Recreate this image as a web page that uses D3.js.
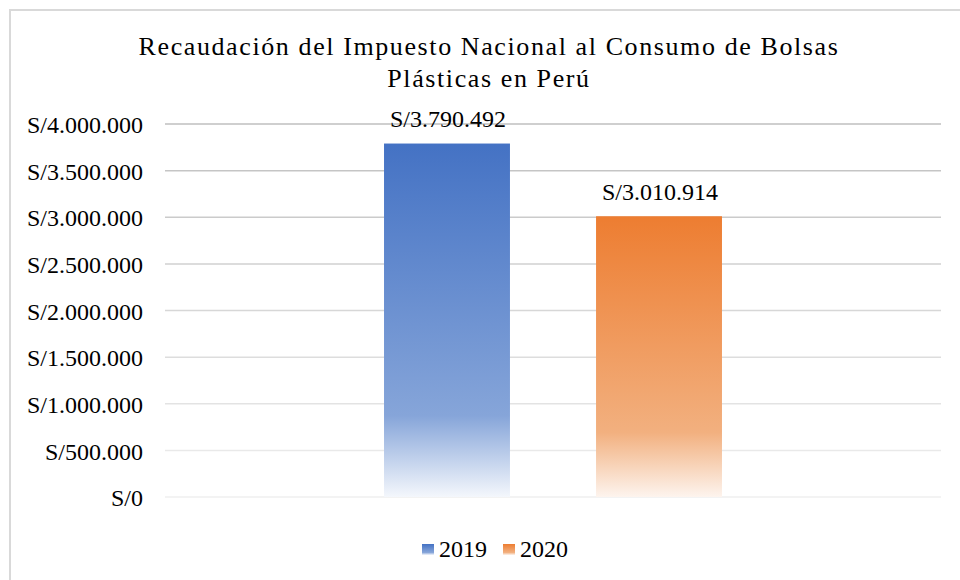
<!DOCTYPE html>
<html>
<head>
<meta charset="utf-8">
<script src="https://cdn.jsdelivr.net/npm/d3@7"></script>
<style>
  body { margin: 0; background: #fff; }
  svg text { font-family: "Liberation Serif", "Times New Roman", serif; fill: #000; }
</style>
</head>
<body>
<div id="chart"></div>
<script>
// datos
var series = ["2019", "2020"];
var values = [3790492, 3010914];
var ticks = [0, 500000, 1000000, 1500000, 2000000, 2500000, 3000000, 3500000, 4000000];
var titleLines = ["Recaudación del Impuesto Nacional al Consumo de Bolsas", "Plásticas en Perú"];
var colors = [
  { top: "#4472c4", mid: "#86a5d9", bot: "#f4f7fc" },
  { top: "#ed7d31", mid: "#f2b07f", bot: "#fdf4ee" }
];

var width = 960, height = 580;
var plotL = 165, plotR = 941, plotT = 124, plotB = 497;
var serif = "'Liberation Serif', 'Times New Roman', serif";

var svg = d3.select("#chart").append("svg")
  .attr("width", width).attr("height", height);

// cadre
svg.append("rect")
  .attr("x", 10).attr("y", 10)
  .attr("width", 960).attr("height", 580)
  .attr("fill", "none").attr("stroke", "#d9d9d9").attr("stroke-width", 2);

var defs = svg.append("defs");
colors.forEach(function (c, i) {
  var g = defs.append("linearGradient").attr("id", "grad" + i)
    .attr("x1", 0).attr("y1", 0).attr("x2", 0).attr("y2", 1);
  g.append("stop").attr("offset", "0%").attr("stop-color", c.top);
  g.append("stop").attr("offset", "77%").attr("stop-color", c.mid);
  g.append("stop").attr("offset", "100%").attr("stop-color", c.bot);
});

var y = d3.scaleLinear().domain([0, 4000000]).range([plotB, plotT]);
var x = d3.scaleBand().domain(series).range([plotL, plotR])
  .paddingInner(0.406).paddingOuter(1.033);

var fmt = function (v) {
  return "S/" + d3.format(",")(v).replace(/,/g, ".");
};

// grille (dégradé de gris)
var gridColor = d3.scaleLinear().domain([0, 4000000]).range(["#efefef", "#bfbfbf"]);
svg.append("g").selectAll("line")
  .data(ticks).enter().append("line")
  .attr("x1", plotL).attr("x2", plotR)
  .attr("y1", function (d) { return y(d); })
  .attr("y2", function (d) { return y(d); })
  .attr("stroke", function (d) { return gridColor(d); })
  .attr("stroke-width", 1.5);

// axe y
var yAxis = svg.append("g")
  .attr("transform", "translate(" + (plotL - 22) + ",0)")
  .call(d3.axisLeft(y).tickValues(ticks).tickFormat(fmt).tickSize(0).tickPadding(0));
yAxis.select(".domain").remove();
yAxis.attr("font-family", serif);
yAxis.selectAll("text")
  .style("font-size", "24px")
  .style("font-family", serif)
  .attr("dy", "0.36em")
  .attr("fill", "#000");

// barres
svg.append("g").selectAll("rect")
  .data(values).enter().append("rect")
  .attr("x", function (d, i) { return x(series[i]); })
  .attr("y", function (d) { return y(d); })
  .attr("width", x.bandwidth())
  .attr("height", function (d) { return plotB - y(d); })
  .attr("fill", function (d, i) { return "url(#grad" + i + ")"; });

// étiquettes
svg.append("g").selectAll("text")
  .data(values).enter().append("text")
  .attr("x", function (d, i) { return x(series[i]) + x.bandwidth() / 2 + 1; })
  .attr("y", function (d) { return y(d) - 16.5; })
  .attr("text-anchor", "middle")
  .style("font-size", "24px")
  .text(fmt);

// titre
svg.append("g").selectAll("text")
  .data(titleLines).enter().append("text")
  .attr("x", 489)
  .attr("y", function (d, i) { return 55 + i * 32; })
  .attr("text-anchor", "middle")
  .style("font-size", "26px")
  .style("letter-spacing", "1.6px")
  .text(function (d) { return d; });

// légende
var leg = svg.append("g").selectAll("g")
  .data(series).enter().append("g")
  .attr("transform", function (d, i) { return "translate(" + (422 + i * 81) + ",544)"; });
leg.append("rect")
  .attr("width", 12).attr("height", 11)
  .attr("fill", function (d, i) { return "url(#grad" + i + ")"; });
leg.append("text")
  .attr("x", 17).attr("y", 13)
  .style("font-size", "24px")
  .text(function (d) { return d; });
</script>
</body>
</html>
